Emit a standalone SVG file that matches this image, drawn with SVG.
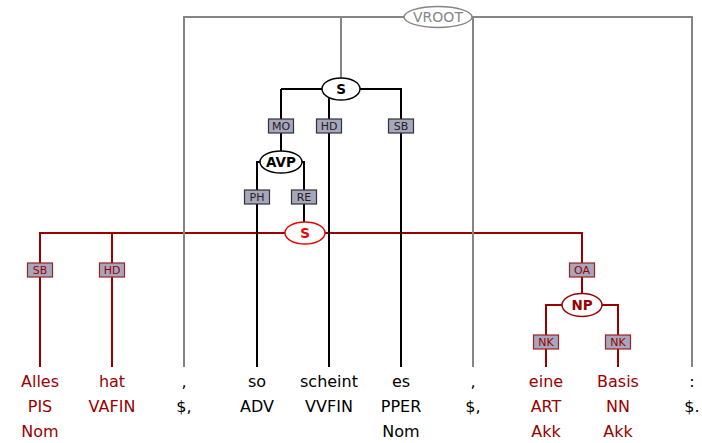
<svg xmlns="http://www.w3.org/2000/svg" width="702" height="443" viewBox="0 0 702 443">
<style>
text{font-family:"DejaVu Sans","Liberation Sans",sans-serif;text-anchor:middle}
.e{stroke-width:2;fill:none}
.gray{stroke:#858585}
.blk{stroke:#000}
.red{stroke:#990000}
.node ellipse{fill:#fff;stroke-width:1.4}
.nt{font-size:13.5px;font-weight:bold}
.lb rect{fill:#a6a6bc;stroke-width:1.2}
.lb text{font-size:11px}
.w{font-size:16px}
.rw{fill:#990000}
</style>
<rect width="702" height="443" fill="#fff"/>
<g id="connectors">
<path class="e red" d="M40,367V233H582V294M112,233V367M546,367V305H618V367"/>
<path class="e blk" d="M281,89V151M401,367V89H281M329,89V367M257,367V162H304V222"/>
<path class="e gray" d="M184,367V17H692V367M341,17V78M473,17V367"/>
</g>
<g id="labels">
<g class="lb" id="lbl-MO"><rect x="268.5" y="119" width="25" height="14" stroke="#333"/><text x="281" y="130" fill="#222">MO</text></g>
<g class="lb" id="lbl-HD1"><rect x="316.5" y="119" width="25" height="14" stroke="#333"/><text x="329" y="130" fill="#222">HD</text></g>
<g class="lb" id="lbl-SB1"><rect x="388.5" y="119" width="25" height="14" stroke="#333"/><text x="401" y="130" fill="#222">SB</text></g>
<g class="lb" id="lbl-PH"><rect x="244.5" y="190" width="25" height="14" stroke="#333"/><text x="257" y="201" fill="#222">PH</text></g>
<g class="lb" id="lbl-RE"><rect x="291.5" y="190" width="25" height="14" stroke="#333"/><text x="304" y="201" fill="#222">RE</text></g>
<g class="lb" id="lbl-SB2"><rect x="27.5" y="263" width="25" height="14" stroke="#a02020"/><text x="40" y="274" fill="#990000">SB</text></g>
<g class="lb" id="lbl-HD2"><rect x="99.5" y="263" width="25" height="14" stroke="#a02020"/><text x="112" y="274" fill="#990000">HD</text></g>
<g class="lb" id="lbl-OA"><rect x="569.5" y="263" width="25" height="14" stroke="#a02020"/><text x="582" y="274" fill="#990000">OA</text></g>
<g class="lb" id="lbl-NK1"><rect x="533.5" y="335" width="25" height="14" stroke="#a02020"/><text x="546" y="346" fill="#990000">NK</text></g>
<g class="lb" id="lbl-NK2"><rect x="605.5" y="335" width="25" height="14" stroke="#a02020"/><text x="618" y="346" fill="#990000">NK</text></g>
</g>
<g class="node" id="n-VROOT"><ellipse cx="438" cy="17" rx="34" ry="10.5" stroke="#858585"/><text x="438" y="22" font-size="14" fill="#858585">VROOT</text></g>
<g class="node" id="n-S1"><ellipse cx="341" cy="89" rx="19" ry="11" stroke="#000"/><text class="nt" x="341" y="94" fill="#000">S</text></g>
<g class="node" id="n-AVP"><ellipse cx="281" cy="162" rx="21" ry="11" stroke="#000"/><text class="nt" x="281" y="167" fill="#000">AVP</text></g>
<g class="node" id="n-S2"><ellipse cx="305" cy="233" rx="20" ry="11" stroke="#ee0000"/><text class="nt" x="305" y="238" fill="#ee0000">S</text></g>
<g class="node" id="n-NP"><ellipse cx="582" cy="305" rx="20" ry="11.5" stroke="#990000"/><text class="nt" x="582" y="310" fill="#990000">NP</text></g>
<g id="words" class="w">
<g id="w-Alles" class="rw"><text x="40" y="387">Alles</text><text x="40" y="412">PIS</text><text x="40" y="437">Nom</text></g>
<g id="w-hat" class="rw"><text x="112" y="387">hat</text><text x="112" y="412">VAFIN</text></g>
<g id="w-comma1"><text x="184" y="387">,</text><text x="184" y="412">$,</text></g>
<g id="w-so"><text x="257" y="387">so</text><text x="257" y="412">ADV</text></g>
<g id="w-scheint"><text x="329" y="387">scheint</text><text x="329" y="412">VVFIN</text></g>
<g id="w-es"><text x="401" y="387">es</text><text x="401" y="412">PPER</text><text x="401" y="437">Nom</text></g>
<g id="w-comma2"><text x="473" y="387">,</text><text x="473" y="412">$,</text></g>
<g id="w-eine" class="rw"><text x="546" y="387">eine</text><text x="546" y="412">ART</text><text x="546" y="437">Akk</text></g>
<g id="w-Basis" class="rw"><text x="618" y="387">Basis</text><text x="618" y="412">NN</text><text x="618" y="437">Akk</text></g>
<g id="w-colon"><text x="692" y="387">:</text><text x="692" y="412">$.</text></g>
</g>
</svg>
